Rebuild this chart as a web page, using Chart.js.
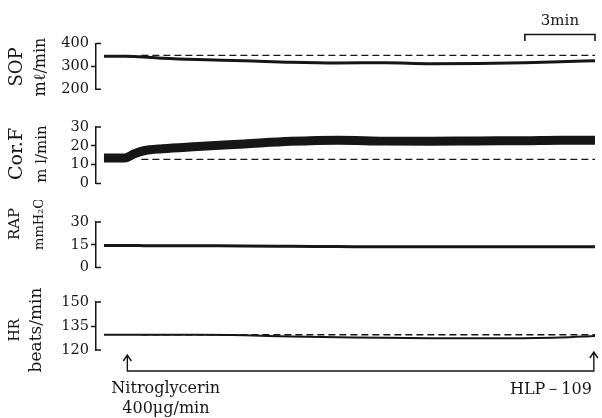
<!DOCTYPE html>
<html>
<head>
<meta charset="utf-8">
<script src="https://cdn.jsdelivr.net/npm/chart.js@4.4.1/dist/chart.umd.min.js"></script>
<style>
  html, body { margin: 0; padding: 0; background: #fff; }
  #page { position: relative; width: 602px; height: 418px; overflow: hidden; background: #fff; }
  .panel { position: absolute; left: 0; width: 602px; }
</style>
</head>
<body>
<div id="page">
  <div class="panel" style="top:0"><canvas id="sop" width="602" height="100"></canvas></div>
  <div class="panel" style="top:100px"><canvas id="corf" width="602" height="100"></canvas></div>
  <div class="panel" style="top:200px"><canvas id="rap" width="602" height="85"></canvas></div>
  <div class="panel" style="top:285px"><canvas id="hr" width="602" height="133"></canvas></div>
</div>
<script>
// sample times, minutes from start of the trace
const minutes = [0, 0.9, 1.3, 1.7, 2.5, 4, 6, 8, 10, 12, 14, 16, 18, 19.5, 21];
const sopFlow = [344, 344, 343, 341, 336, 330, 325, 318, 315, 316, 312, 313, 316, 320, 325];
const corFlow = [13.5, 13.6, 15.8, 17.4, 18.5, 19.6, 21.0, 22.4, 23.0, 22.5, 22.4, 22.6, 22.7, 23.0, 23.0];
const rapPressure = [14.5, 14.5, 14.5, 14.4, 14.4, 14.3, 14.2, 14.0, 13.8, 13.6, 13.6, 13.7, 13.6, 13.7, 13.7];
const heartRate = [129.5, 129.5, 129.5, 129.5, 129.5, 129.5, 129.2, 128.4, 128.0, 127.6, 127.4, 127.3, 127.4, 127.8, 128.8];

// pre-infusion control levels (dashed)
const controlMinutes = [1.6, 21];
const sopControl = [348, 348];
const corControl = [12.8, 12.8];
const hrControl = [129.5, 129.5];

const panelNames = ['SOP', 'Cor.F', 'RAP', 'HR'];
const panelUnits = ['mℓ/min', 'm l/min', 'mmH₂O', 'beats/min'];

const infusionStart = 1.0;   // Nitroglycerin 400µg/min
const infusionEnd = 20.95;   // HLP-109
const scaleBar = [18, 21];   // 3 min

const ink = '#161616';
const serif = '"DejaVu Serif", "Liberation Serif", serif';

function pairs(xs, ys) {
  return xs.map((x, i) => ({ x, y: ys[i] }));
}

function traceSet(values, width) {
  return {
    data: pairs(minutes, values),
    borderColor: ink,
    borderWidth: width,
    pointRadius: 0,
    cubicInterpolationMode: 'monotone',
    borderCapStyle: 'butt',
    clip: false,
  };
}

function controlSet(values) {
  return {
    data: pairs(controlMinutes, values),
    borderColor: ink,
    borderWidth: 1.4,
    borderDash: [7, 4],
    pointRadius: 0,
    clip: false,
  };
}

function yScale(min, max, step) {
  return {
    min, max,
    afterFit: s => { s.width = 96; },
    border: { display: true, color: ink, width: 1.5 },
    grid: {
      drawOnChartArea: false,
      tickLength: 5,
      tickWidth: 1.5,
      tickColor: c => (c.tick && (c.tick.value === min || c.tick.value === max)) ? 'rgba(0,0,0,0)' : ink,
    },
    ticks: { stepSize: step, autoSkip: false, padding: 2, color: ink, font: { family: serif, size: 14.5 } },
  };
}

// caps at the ends of each y axis, turned into the plot
const axisCaps = {
  id: 'axisCaps',
  afterDraw(chart) {
    const { ctx, chartArea } = chart;
    const y = chart.scales.y;
    const x0 = chartArea.left;
    ctx.save();
    ctx.strokeStyle = ink;
    ctx.lineWidth = 1.5;
    ctx.beginPath();
    [y.max, y.min].forEach(v => {
      const py = y.getPixelForValue(v);
      ctx.moveTo(x0, py);
      ctx.lineTo(x0 + 5, py);
    });
    ctx.stroke();
    ctx.restore();
  }
};

// rotated name and unit left of the axis
const sideTitle = {
  id: 'sideTitle',
  afterDraw(chart, args, opts) {
    const { ctx } = chart;
    opts.lines.forEach((line, i) => {
      ctx.save();
      ctx.translate(opts.x[i], opts.y);
      ctx.rotate(-Math.PI / 2);
      ctx.font = `${opts.sizes[i]}px ${serif}`;
      ctx.textAlign = 'center';
      ctx.textBaseline = 'middle';
      ctx.fillStyle = ink;
      ctx.fillText(line, 0, 0);
      ctx.restore();
    });
  }
};

// 3 min time bar above the first trace
const timeBar = {
  id: 'timeBar',
  afterDraw(chart, args, opts) {
    if (!opts.show) return;
    const { ctx } = chart;
    const xs = chart.scales.x;
    const a = xs.getPixelForValue(scaleBar[0]);
    const b = xs.getPixelForValue(scaleBar[1]);
    ctx.save();
    ctx.strokeStyle = ink;
    ctx.lineWidth = 1.6;
    ctx.beginPath();
    ctx.moveTo(a, 41); ctx.lineTo(a, 34.5); ctx.lineTo(b, 34.5); ctx.lineTo(b, 41);
    ctx.stroke();
    ctx.fillStyle = ink;
    ctx.font = `15px ${serif}`;
    ctx.textAlign = 'center';
    ctx.textBaseline = 'alphabetic';
    ctx.fillText('3min', (a + b) / 2, 25);
    ctx.restore();
  }
};

// infusion markers under the last trace
const infusionMarks = {
  id: 'infusionMarks',
  afterDraw(chart, args, opts) {
    if (!opts.show) return;
    const { ctx } = chart;
    const xs = chart.scales.x;
    const a = xs.getPixelForValue(infusionStart);
    const b = xs.getPixelForValue(infusionEnd);
    const base = 86;
    ctx.save();
    ctx.strokeStyle = ink;
    ctx.lineWidth = 1.4;
    ctx.beginPath();
    ctx.moveTo(a, 70); ctx.lineTo(a, base); ctx.lineTo(b, base); ctx.lineTo(b, 67);
    // arrow heads
    ctx.moveTo(a - 4, 76); ctx.lineTo(a, 70); ctx.lineTo(a + 4, 76);
    ctx.moveTo(b - 4, 73); ctx.lineTo(b, 67); ctx.lineTo(b + 4, 73);
    ctx.stroke();
    ctx.fillStyle = ink;
    ctx.font = `16px ${serif}`;
    ctx.textBaseline = 'alphabetic';
    ctx.textAlign = 'left';
    ctx.fillText('Nitroglycerin', a - 16, 108);
    ctx.fillText('400μg/min', a - 5, 128);
    ctx.textAlign = 'right';
    ctx.fillText('HLP－109', b - 2, 109);
    ctx.restore();
  }
};

function makePanel(id, datasets, scale, pad, title, extras) {
  return new Chart(document.getElementById(id), {
    type: 'line',
    data: { datasets },
    options: {
      responsive: false,
      animation: false,
      events: [],
      layout: { padding: { left: 0, right: 7, top: pad[0], bottom: pad[1] } },
      scales: {
        x: { type: 'linear', min: -0.34, max: 21, display: false },
        y: scale,
      },
      plugins: {
        legend: { display: false },
        tooltip: { enabled: false },
        sideTitle: title,
        timeBar: { show: !!(extras && extras.timeBar) },
        infusionMarks: { show: !!(extras && extras.marks) },
      },
    },
    plugins: [axisCaps, sideTitle, timeBar, infusionMarks],
  });
}

makePanel('sop',
  [traceSet(sopFlow, 3), controlSet(sopControl)],
  yScale(200, 400, 100), [43.5, 10],
  { lines: [panelNames[0], panelUnits[0]], sizes: [18, 16], x: [17, 41], y: 67 },
  { timeBar: true });

makePanel('corf',
  [traceSet(corFlow, 9), controlSet(corControl)],
  yScale(0, 30, 10), [27, 16.5],
  { lines: [panelNames[1], panelUnits[1]], sizes: [19, 15], x: [17, 42], y: 54 });

makePanel('rap',
  [traceSet(rapPressure, 3)],
  yScale(0, 30, 15), [22, 17.5],
  { lines: [panelNames[2], panelUnits[2]], sizes: [15, 13], x: [15, 40], y: 24 });

makePanel('hr',
  [traceSet(heartRate, 2), controlSet(hrControl)],
  yScale(120, 150, 15), [17, 68],
  { lines: [panelNames[3], panelUnits[3]], sizes: [14, 17], x: [15, 37], y: 45 },
  { marks: true });
</script>
</body>
</html>
